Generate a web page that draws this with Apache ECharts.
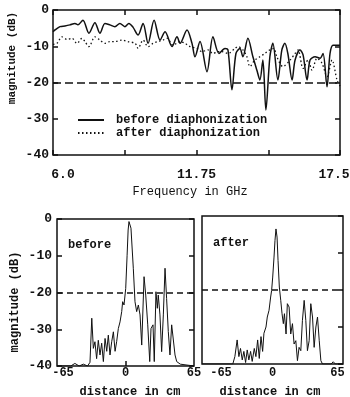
<!DOCTYPE html>
<html><head><meta charset="utf-8">
<script src="https://cdn.jsdelivr.net/npm/echarts@6/dist/echarts.min.js"></script>
<style>html,body{margin:0;padding:0;background:#fff}#c{width:350px;height:397px}</style>
</head><body><div id="c"></div>
<script>
// ---- Frequency domain (top) ----
const freqBefore = [6.0, 6.08, 6.28, 6.48, 6.68, 6.88, 7.0, 7.2, 7.44, 7.68,
  7.88, 8.08, 8.28, 8.48, 8.68, 8.88, 9.04, 9.21, 9.41, 9.61,
  9.81, 10.05, 10.29, 10.49, 10.77, 10.97, 11.09, 11.37, 11.57, 11.69,
  11.89, 12.17, 12.41, 12.65, 12.89, 13.01, 13.17, 13.33, 13.49, 13.61,
  13.81, 14.01, 14.17, 14.29, 14.41, 14.53, 14.69, 14.81, 15.01, 15.17,
  15.29, 15.41, 15.58, 15.7, 15.9, 16.02, 16.18, 16.3, 16.5, 16.7,
  16.82, 16.98, 17.1, 17.22, 17.42, 17.5];
const magBefore = [-6.0, -5.5, -4.6, -4.4, -4.1, -3.7, -4.1, -2.8, -6.4, -3.5,
  -6.4, -3.7, -4.1, -4.6, -3.7, -4.6, -3.7, -4.8, -6.9, -3.7,
  -9.2, -2.8, -8.3, -6.0, -10.1, -7.4, -9.2, -5.5, -9.2, -12.9,
  -8.7, -17.0, -7.4, -12.0, -10.6, -11.0, -22.0, -12.0, -10.6, -12.9,
  -7.8, -12.9, -16.6, -19.3, -13.8, -27.6, -12.9, -9.2, -19.3, -11.0,
  -9.2, -12.0, -19.3, -13.8, -11.0, -12.4, -19.3, -13.8, -12.9, -13.3,
  -12.0, -21.2, -12.0, -9.7, -9.7, -9.7];
const freqAfter = [6.0, 6.16, 6.36, 6.56, 6.76, 6.96, 7.16, 7.28, 7.44, 7.68,
  7.88, 8.08, 8.28, 8.48, 8.76, 9.0, 9.29, 9.41, 9.61, 9.81,
  10.01, 10.21, 10.41, 10.57, 10.81, 11.09, 11.29, 11.49, 11.77, 11.97,
  12.21, 12.41, 12.61, 12.77, 13.01, 13.29, 13.41, 13.61, 13.77, 13.89,
  14.09, 14.29, 14.49, 14.69, 14.85, 14.97, 15.21, 15.5, 15.7, 15.82,
  16.02, 16.22, 16.38, 16.58, 16.78, 16.98, 17.18, 17.38, 17.5];
const magAfter = [-9.5, -9.2, -7.4, -8.1, -7.8, -9.2, -7.8, -8.7, -10.1, -7.4,
  -8.3, -9.2, -8.7, -8.7, -8.3, -8.7, -9.2, -10.6, -8.3, -10.1,
  -9.2, -8.7, -8.3, -7.8, -9.7, -8.7, -9.2, -10.1, -10.6, -11.5,
  -11.0, -12.0, -11.5, -11.5, -12.0, -10.6, -10.1, -11.0, -12.9, -15.6,
  -13.8, -12.9, -12.0, -11.0, -10.6, -12.9, -15.6, -13.8, -12.0, -11.0,
  -16.1, -13.8, -16.6, -13.3, -14.7, -18.4, -13.8, -19.3, -21.0];
const freqTicks = [6, 8.875, 11.75, 14.625, 17.5];
const freqLabels = [6, 11.75, 17.5];

// ---- Distance domain (bottom) ----
const distBefore = [-65, -52, -48, -44, -40, -36, -33.7, -32, -30.5, -29,
  -27.4, -25.8, -24.2, -22.6, -21, -19.4, -17.8, -16.3, -14.7, -13.1,
  -11.5, -9.9, -8.4, -6.8, -5.2, -3.6, -2.7, -1.4, 0.2, 1.5,
  2.5, 3.3, 5.2, 7.4, 9.0, 10.6, 12.2, 13.8, 15.4, 17.6,
  19.2, 21.1, 23.0, 24.2, 26.1, 27.3, 28.9, 30.2, 31.1, 32.7,
  34.3, 35.9, 37.5, 39.0, 40.6, 42.2, 43.8, 45.4, 47.0, 48.6,
  52, 65];
const tdBefore = [-40, -40, -39.3, -40, -39.5, -40, -39, -27, -35.2, -33.4,
  -38, -33, -37, -33.8, -38.8, -32.5, -36, -31.6, -37, -33.4,
  -30.7, -36, -33.4, -29.8, -28, -25.2, -22.5, -23.4, -18.9, -10,
  -3, -0.7, -2.5, -13.4, -22.5, -25.2, -23.4, -26.1, -34.3, -15.7,
  -20.7, -28.8, -38.8, -29.8, -28.8, -38.8, -19.8, -24.3, -20.7, -26.1,
  -36.1, -26.1, -13.4, -21.6, -30.6, -37, -28.8, -28.4, -37, -38.8,
  -39.5, -40];
const distAfter = [-65, -36.6, -34.7, -32.6, -31.0, -29.5, -27.9, -26.4, -24.8, -23.3,
  -21.8, -20.2, -18.7, -16.8, -15.3, -13.7, -12.2, -10.6, -9.1, -7.9,
  -6.0, -4.8, -3.2, -1.7, -0.8, 0.2, 1.4, 2.3, 3.2, 4.2,
  5.1, 6.3, 7.6, 8.8, 10.0, 11.0, 12.5, 13.7, 15.3, 16.8,
  18.4, 19.9, 21.5, 23.0, 24.5, 26.1, 27.6, 29.2, 30.7, 32.2,
  33.8, 35.3, 36.9, 38.4, 40.0, 41.5, 43.1, 44.6, 46.1, 54,
  56, 58, 65];
const tdAfter = [-40, -40, -38, -33.5, -38, -35.8, -38.9, -36.6, -39.6, -36.2,
  -38.9, -36.6, -39.3, -35.8, -38, -33.5, -38.5, -32.6, -36.6, -31.7,
  -30, -27.3, -25.5, -21.9, -20.1, -16.5, -11.1, -6.6, -3.5, -5.7,
  -12, -19.2, -22.8, -26.4, -29.1, -26.4, -31.9, -23.7, -24.6, -31.9,
  -29.1, -34.6, -33.7, -39.1, -35.5, -36.4, -28.2, -22.8, -28.2, -36.4,
  -33.7, -23.7, -27.3, -35.5, -30, -27.3, -33.7, -39.1, -40, -40,
  -39.4, -40, -40];
const distLabels = [-65, 0, 65];
const distTicks = [0];
const threshold = -20;

const FONT = "'Liberation Mono','DejaVu Sans Mono',monospace";
const INK = '#111';
const zip = (a, b) => a.map((v, i) => [v, b[i]]);
const tf = (size) => ({ fontFamily: FONT, fontSize: size, fontWeight: 'bold', color: INK });

function yAx(grid, pos, showLabel, showTick, margin) {
  return {
    type: 'value', gridIndex: grid, position: pos, min: -40, max: 0, interval: 10,
    axisLine: { show: false, onZero: false }, splitLine: { show: false },
    axisTick: { show: showTick, inside: true, length: 5, lineStyle: { color: INK, width: 1.5 } },
    axisLabel: Object.assign({ show: showLabel, margin: margin || 4, formatter: v => String(v) }, tf(13))
  };
}
function thresholdLine(dash) {
  return {
    silent: true, symbol: ['none', 'none'], label: { show: false },
    lineStyle: { color: INK, type: dash, width: 1.5 },
    emphasis: { disabled: true },
    data: [{ yAxis: threshold }]
  };
}

const chart = echarts.init(document.getElementById('c'), null, { renderer: 'canvas' });
chart.setOption({
  animation: false,
  backgroundColor: '#fff',
  grid: [
    { left: 53, top: 10, width: 287, height: 145, show: true, borderColor: INK, borderWidth: 1.5, containLabel: false, outerBoundsMode: 'none' },
    { left: 57, top: 219, width: 137, height: 147, show: true, borderColor: INK, borderWidth: 1.5, containLabel: false, outerBoundsMode: 'none' },
    { left: 202, top: 216, width: 141, height: 148, show: true, borderColor: INK, borderWidth: 1.5, containLabel: false, outerBoundsMode: 'none' }
  ],
  legend: {
    left: 72, top: 109, orient: 'vertical', itemWidth: 26, itemHeight: 14, itemGap: 1,
    selectedMode: false,
    itemStyle: { opacity: 0 },
    textStyle: Object.assign({ padding: [0, 0, 0, 7] }, tf(12)),
    data: ['before diaphonization', 'after diaphonization']
  },
  xAxis: [
    {
      type: 'value', gridIndex: 0, min: 6, max: 17.5, position: 'bottom',
      name: 'Frequency in GHz', nameLocation: 'middle', nameGap: 31,
      nameTextStyle: Object.assign({}, tf(12), { fontWeight: 'normal', padding: [0, 13, 0, 0] }),
      axisLine: { show: false, onZero: false }, splitLine: { show: false },
      axisTick: { show: true, inside: true, length: 5, customValues: freqTicks, lineStyle: { color: INK, width: 1.5 } },
      axisLabel: Object.assign({
        margin: 13, customValues: freqLabels,
        formatter: v => v === 6 ? '{l|6.0}' : (v === 17.5 ? '{r|17.5}' : String(v)),
        rich: {
          l: Object.assign({ padding: [0, 0, 0, 20] }, tf(13)),
          r: Object.assign({ padding: [0, 12, 0, 0] }, tf(13))
        }
      }, tf(13))
    },
    {
      type: 'value', gridIndex: 0, min: 6, max: 17.5, position: 'top',
      axisLine: { show: false, onZero: false }, splitLine: { show: false },
      axisTick: { show: true, inside: true, length: 5, customValues: freqTicks, lineStyle: { color: INK, width: 1.5 } },
      axisLabel: { show: false }
    },
    {
      type: 'value', gridIndex: 1, min: -65, max: 65, position: 'bottom',
      name: 'distance in cm', nameLocation: 'middle', nameGap: 20,
      nameTextStyle: Object.assign({}, tf(12), { padding: [0, 0, 0, 9] }),
      axisLine: { show: false, onZero: false }, splitLine: { show: false },
      axisTick: { show: true, inside: true, length: 5, customValues: distTicks, lineStyle: { color: INK, width: 1.5 } },
      axisLabel: Object.assign({
        margin: 1, customValues: distLabels,
        formatter: v => v === -65 ? '{l|-65}' : String(v),
        rich: { l: Object.assign({ padding: [0, 0, 0, 12] }, tf(12)) }
      }, tf(12))
    },
    {
      type: 'value', gridIndex: 2, min: -65, max: 65, position: 'bottom',
      name: 'distance in cm', nameLocation: 'middle', nameGap: 22,
      nameTextStyle: Object.assign({}, tf(12), { padding: [0, 5, 0, 0] }),
      axisLine: { show: false, onZero: false }, splitLine: { show: false },
      axisTick: { show: false },
      axisLabel: Object.assign({
        margin: 3, customValues: distLabels,
        formatter: v => v === -65 ? '{l|-65}' : (v === 65 ? '{r|65}' : String(v)),
        rich: {
          l: Object.assign({ padding: [0, 0, 0, 38] }, tf(12)),
          r: Object.assign({ padding: [0, 11, 0, 0] }, tf(12))
        }
      }, tf(12))
    }
  ],
  yAxis: [
    yAx(0, 'left', true, true, 4),
    yAx(0, 'right', false, true),
    yAx(1, 'left', true, true, 5),
    yAx(1, 'right', false, true),
    yAx(2, 'left', false, false),
    yAx(2, 'right', false, true)
  ],
  graphic: [
    { type: 'text', x: 12, y: 58, rotation: Math.PI / 2,
      style: { text: 'magnitude (dB)', fontFamily: FONT, fontSize: 11, fontWeight: 'bold', fill: INK, align: 'center', verticalAlign: 'middle' } },
    { type: 'text', x: 15, y: 302, rotation: Math.PI / 2,
      style: { text: 'magnitude (dB)', fontFamily: FONT, fontSize: 12, fontWeight: 'bold', fill: INK, align: 'center', verticalAlign: 'middle' } },
    { type: 'text', x: 68, y: 245,
      style: { text: 'before', fontFamily: FONT, fontSize: 12, fontWeight: 'bold', fill: INK, align: 'left', verticalAlign: 'middle' } },
    { type: 'text', x: 213, y: 243,
      style: { text: 'after', fontFamily: FONT, fontSize: 12, fontWeight: 'bold', fill: INK, align: 'left', verticalAlign: 'middle' } }
  ],
  series: [
    {
      name: 'before diaphonization', type: 'line', xAxisIndex: 0, yAxisIndex: 0,
      data: zip(freqBefore, magBefore), symbol: 'none', smooth: 0.3,
      lineStyle: { color: INK, width: 1.5, type: 'solid' }, itemStyle: { color: INK },
      markLine: thresholdLine([8, 4])
    },
    {
      name: 'after diaphonization', type: 'line', xAxisIndex: 0, yAxisIndex: 0,
      data: zip(freqAfter, magAfter), symbol: 'none', smooth: 0.3,
      lineStyle: { color: INK, width: 1.3, type: [1.5, 2.5] }, itemStyle: { color: INK }
    },
    {
      name: 'before', type: 'line', xAxisIndex: 2, yAxisIndex: 2,
      data: zip(distBefore, tdBefore), symbol: 'none',
      lineStyle: { color: INK, width: 1 }, itemStyle: { color: INK },
      markLine: thresholdLine([6, 4])
    },
    {
      name: 'after', type: 'line', xAxisIndex: 3, yAxisIndex: 4,
      data: zip(distAfter, tdAfter), symbol: 'none',
      lineStyle: { color: INK, width: 1 }, itemStyle: { color: INK },
      markLine: thresholdLine([6, 4])
    }
  ]
});
</script>
</body></html>
